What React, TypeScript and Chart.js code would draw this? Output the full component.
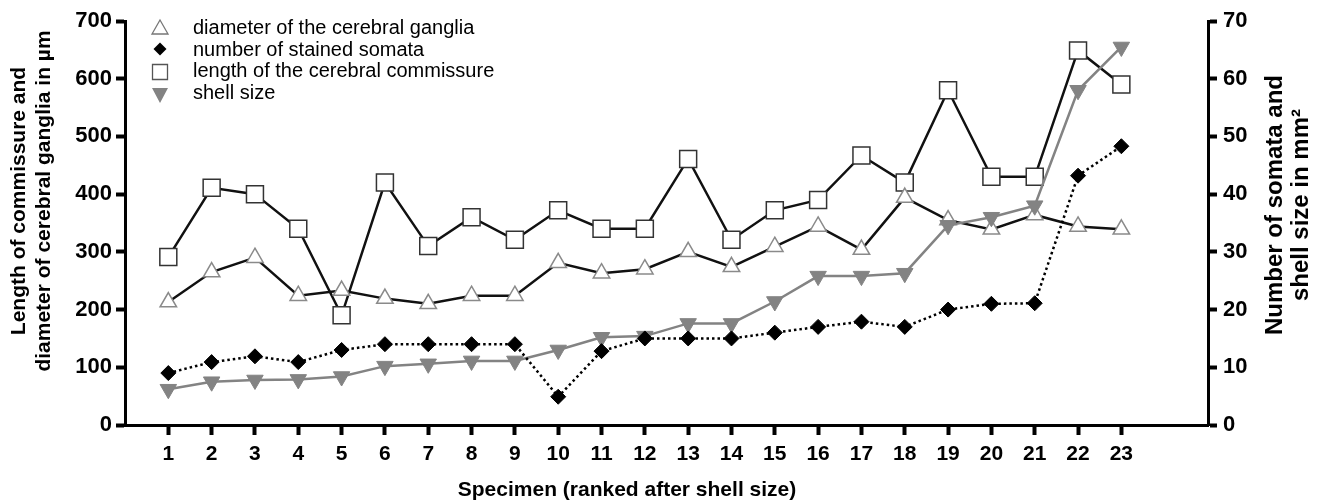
import React, { useEffect, useRef } from "react";
import { Chart, registerables } from "chart.js";

Chart.register(...registerables);

const specimens = [1, 2, 3, 4, 5, 6, 7, 8, 9, 10, 11, 12, 13, 14, 15, 16, 17, 18, 19, 20, 21, 22, 23];
const ganglionDiameter = [213, 265, 290, 224, 233, 219, 210, 224, 224, 281, 263, 270, 300, 274, 309, 344, 304, 394, 355, 339, 364, 344, 339];
const commissureLength = [291, 411, 400, 340, 190, 420, 310, 360, 321, 372, 340, 340, 461, 321, 372, 390, 467, 420, 580, 430, 430, 649, 590];
const stainedSomata = [9, 10.9, 11.9, 10.9, 13, 14, 14, 14, 14, 4.9, 12.8, 15, 15, 15, 16, 17, 17.9, 17, 20, 21, 21.1, 43.2, 48.3];
const shellSize = [6.2, 7.5, 7.8, 7.9, 8.4, 10.2, 10.6, 11.1, 11.1, 13, 15.2, 15.4, 17.6, 17.6, 21.4, 25.8, 25.8, 26.3, 34.6, 36, 38, 58, 65.5];
const leftTicks = [0, 100, 200, 300, 400, 500, 600, 700];
const rightTicks = [0, 10, 20, 30, 40, 50, 60, 70];

const legendLabels = [
  "diameter of the cerebral ganglia",
  "number of stained somata",
  "length of the cerebral commissure",
  "shell size",
];
const leftTitle = ["Length of commissure and", "diameter of cerebral ganglia in µm"];
const rightTitle = ["Number of somata and", "shell size in mm²"];
const xTitle = "Specimen (ranked after shell size)";

const FONT = "'Liberation Sans', Arial, Helvetica, sans-serif";
const GRAY = "#838383";

function drawMarker(ctx: CanvasRenderingContext2D, kind: string, x: number, y: number) {
  ctx.save();
  ctx.beginPath();
  if (kind === "triUp") {
    ctx.moveTo(x, y - 8);
    ctx.lineTo(x + 8, y + 6);
    ctx.lineTo(x - 8, y + 6);
    ctx.closePath();
    ctx.fillStyle = "#fff";
    ctx.fill();
    ctx.strokeStyle = "#777";
    ctx.lineWidth = 1.3;
    ctx.stroke();
  } else if (kind === "diamond") {
    ctx.moveTo(x, y - 6.5);
    ctx.lineTo(x + 6.5, y);
    ctx.lineTo(x, y + 6.5);
    ctx.lineTo(x - 6.5, y);
    ctx.closePath();
    ctx.fillStyle = "#000";
    ctx.fill();
  } else if (kind === "square") {
    ctx.rect(x - 7.5, y - 7.5, 15, 15);
    ctx.fillStyle = "#fff";
    ctx.fill();
    ctx.strokeStyle = "#555";
    ctx.lineWidth = 1.3;
    ctx.stroke();
  } else {
    ctx.moveTo(x - 8, y - 7);
    ctx.lineTo(x + 8, y - 7);
    ctx.lineTo(x, y + 8);
    ctx.closePath();
    ctx.fillStyle = GRAY;
    ctx.fill();
  }
  ctx.restore();
}

const textPlugin = {
  id: "customText",
  afterDraw(chart: any) {
    const ctx: CanvasRenderingContext2D = chart.ctx;
    ctx.save();
    ctx.fillStyle = "#000";
    // legend
    const kinds = ["triUp", "diamond", "square", "triDown"];
    const markerY = [28, 49, 72, 95];
    const textY = [34, 55.5, 77, 99];
    ctx.font = `20px ${FONT}`;
    ctx.textAlign = "left";
    ctx.textBaseline = "alphabetic";
    legendLabels.forEach((lab, i) => {
      drawMarker(ctx, kinds[i], 160, markerY[i]);
      ctx.fillStyle = "#000";
      ctx.fillText(lab, 193, textY[i]);
    });

    // left title
    ctx.font = `bold 21px ${FONT}`;
    ctx.textAlign = "center";
    ctx.textBaseline = "middle";
    const lx = [19, 44];
    leftTitle.forEach((t, i) => {
      ctx.save();
      ctx.translate(lx[i], 201);
      ctx.rotate(-Math.PI / 2);
      ctx.fillText(t, 0, 0);
      ctx.restore();
    });

    // right title
    ctx.font = `bold 24px ${FONT}`;
    const rx = [1275, 1301];
    rightTitle.forEach((t, i) => {
      ctx.save();
      ctx.translate(rx[i], 205);
      ctx.rotate(-Math.PI / 2);
      ctx.fillText(t, 0, 0);
      ctx.restore();
    });

    // x title
    ctx.font = `bold 21px ${FONT}`;
    ctx.fillText(xTitle, 627, 490);
    ctx.restore();
  },
};

export default function App() {
  const ref = useRef<HTMLCanvasElement | null>(null);

  useEffect(() => {
    document.body.style.margin = "0";
    const canvas = ref.current;
    if (!canvas) return;

    const tickFont = (size: number) => ({ family: FONT, size, weight: "bold" as const });
    const gridCfg = { drawOnChartArea: false, drawTicks: true, tickLength: 9, tickWidth: 4, tickColor: "#000" };
    const borderCfg = { display: true, color: "#000", width: 3 };

    const chart = new Chart(canvas, {
      type: "line",
      data: {
        datasets: [
          {
            label: legendLabels[1],
            data: specimens.map((x, i) => ({ x, y: stainedSomata[i] })),
            yAxisID: "y2",
            borderColor: "#000",
            borderWidth: 2.5,
            borderDash: [2.5, 3],
            pointStyle: "rectRot",
            pointRadius: 7.5,
            pointBackgroundColor: "#000",
            pointBorderColor: "#000",
            pointBorderWidth: 1,
          },
          {
            label: legendLabels[3],
            data: specimens.map((x, i) => ({ x, y: shellSize[i] })),
            yAxisID: "y2",
            borderColor: GRAY,
            borderWidth: 2.5,
            pointStyle: "triangle",
            pointRotation: 180,
            pointRadius: 9.5,
            pointBackgroundColor: GRAY,
            pointBorderColor: GRAY,
            pointBorderWidth: 1,
          },
          {
            label: legendLabels[0],
            data: specimens.map((x, i) => ({ x, y: ganglionDiameter[i] })),
            yAxisID: "y",
            borderColor: "#111",
            borderWidth: 2.5,
            pointStyle: "triangle",
            pointRadius: 9.5,
            pointBackgroundColor: "#fff",
            pointBorderColor: "#8a8a8a",
            pointBorderWidth: 1.5,
          },
          {
            label: legendLabels[2],
            data: specimens.map((x, i) => ({ x, y: commissureLength[i] })),
            yAxisID: "y",
            borderColor: "#111",
            borderWidth: 2.5,
            pointStyle: "rect",
            pointRadius: 12,
            pointBackgroundColor: "#fff",
            pointBorderColor: "#333",
            pointBorderWidth: 1.5,
          },
        ],
      },
      options: {
        animation: false,
        responsive: false,
        maintainAspectRatio: false,
        layout: { padding: { top: 21, left: 0, right: 0, bottom: 0 } },
        elements: { line: { tension: 0 } },
        plugins: { legend: { display: false }, tooltip: { enabled: false }, title: { display: false } },
        scales: {
          x: {
            type: "linear",
            min: 0,
            max: 25,
            afterBuildTicks: (s: any) => {
              s.ticks = specimens.map((v) => ({ value: v }));
            },
            afterFit: (s: any) => {
              s.height = 79;
            },
            grid: { ...gridCfg, tickLength: 10 },
            border: borderCfg,
            ticks: {
              color: "#000",
              font: tickFont(21),
              padding: 7,
              autoSkip: false,
              maxRotation: 0,
              callback: (v: any) => String(v),
            },
          },
          y: {
            type: "linear",
            position: "left",
            min: 0,
            max: 700,
            afterBuildTicks: (s: any) => {
              s.ticks = leftTicks.map((v) => ({ value: v }));
            },
            afterFit: (s: any) => {
              s.width = 125;
            },
            grid: gridCfg,
            border: borderCfg,
            ticks: { color: "#000", font: tickFont(22), padding: 4, callback: (v: any) => String(v) },
          },
          y2: {
            type: "linear",
            position: "right",
            min: 0,
            max: 70,
            afterBuildTicks: (s: any) => {
              s.ticks = rightTicks.map((v) => ({ value: v }));
            },
            afterFit: (s: any) => {
              s.width = 117;
            },
            grid: gridCfg,
            border: borderCfg,
            ticks: { color: "#000", font: tickFont(22), padding: 6, callback: (v: any) => String(v) },
          },
        },
      },
      plugins: [textPlugin],
    } as any);

    return () => chart.destroy();
  }, []);

  return (
    <div style={{ width: 1325, height: 504, background: "#fff" }}>
      <canvas ref={ref} width={1325} height={504} style={{ display: "block", width: 1325, height: 504 }} />
    </div>
  );
}
